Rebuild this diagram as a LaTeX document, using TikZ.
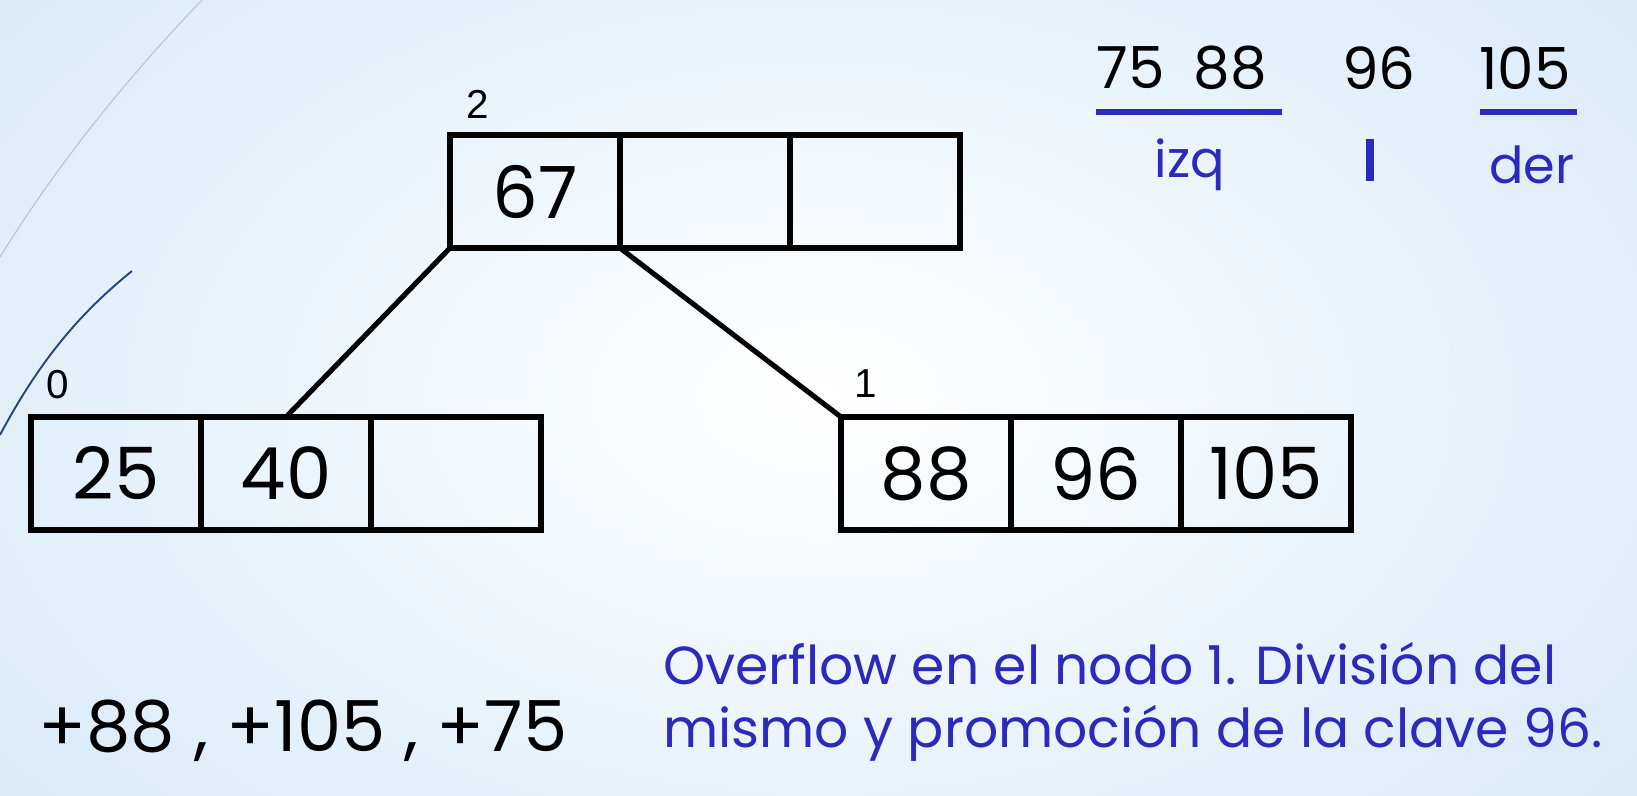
\documentclass[tikz,border=0pt]{standalone}
\usepackage{fontspec}
\setmainfont{Poppins}
\newfontfamily\labfont{Liberation Sans}
\definecolor{textblue}{RGB}{42,42,188}
\definecolor{bgblue}{RGB}{214,233,247}
\definecolor{arcdark}{RGB}{38,72,118}
\definecolor{arclight}{RGB}{178,198,218}
\tikzset{
  cell/.style={draw, line width=2.9pt, minimum width=3.4cm, minimum height=2.26cm,
    inner sep=0pt, outer sep=0pt, font=\fontsize{41}{48}\selectfont},
  lbl/.style={font=\labfont\fontsize{23}{26}\selectfont},
  tree/.style={line width=2.9pt},
  keys/.style={font=\fontsize{33}{36}\selectfont},
  part/.style={textblue, font=\fontsize{29}{34}\selectfont},
  mark line/.style={textblue, line width=2.9pt}
}

\begin{document}
\begin{tikzpicture}[x=0.02cm,y=-0.02cm]
\useasboundingbox (0,0) rectangle (1637,795);
% background
\shade[inner color=white, outer color=bgblue] (-300,-300) rectangle (1937,1095);
\draw[arclight, line width=0.6pt] (0,257) .. controls (60,160) and (130,75) .. (202,0);
\draw[arcdark, line width=1.1pt] (0,435) .. controls (45,350) and (90,305) .. (132,271);

% node 2 (root)
\node[cell] (r1) at (535,191.5) {67};
\node[cell] (r2) at (705,191.5) {};
\node[cell] (r3) at (875,191.5) {};
\node[lbl] (n2) at (478,104) {2};

% node 0
\node[cell] (l1) at (116,473.5) {25};
\node[cell] (l2) at (286,473.5) {40};
\node[cell] (l3) at (456,473.5) {};
\node[lbl] (n0) at (58,385) {0};

% node 1
\node[cell] (d1) at (926,473.5) {88};
\node[cell] (d2) at (1096,473.5) {96};
\node[cell] (d3) at (1266,473.5) {105};
\node[lbl] (n1) at (866,384) {1};

\draw[tree] (r1.south west) -- (l2.north);
\draw[tree] (r1.south east) -- (d1.north west);

% split of node 1
\node[keys] (izqk) at (1182,68) {75\hspace{0.5em}88};
\node[keys] (promk) at (1379,68) {96};
\node[keys] (derk) at (1525,68) {105};
\draw[mark line] (1096,112) -- (1282,112);
\draw[mark line] (1480,112) -- (1577,112);
\draw[textblue, line width=4.4pt] (1370,139) -- (1370,181);
\node[part] (izq) at (1190,165) {izq};
\node[part] (der) at (1532,165) {der};

% insertions and comment
\node[font=\fontsize{40}{44}\selectfont] (ins) at (303,731) {+88 , +105 , +75};
\node[part, anchor=west, align=left, font=\fontsize{30.5}{36}\selectfont] (note) at (657,702)
  {Overflow en el nodo 1. División del\\mismo y promoción de la clave 96.};
\end{tikzpicture}
\end{document}
